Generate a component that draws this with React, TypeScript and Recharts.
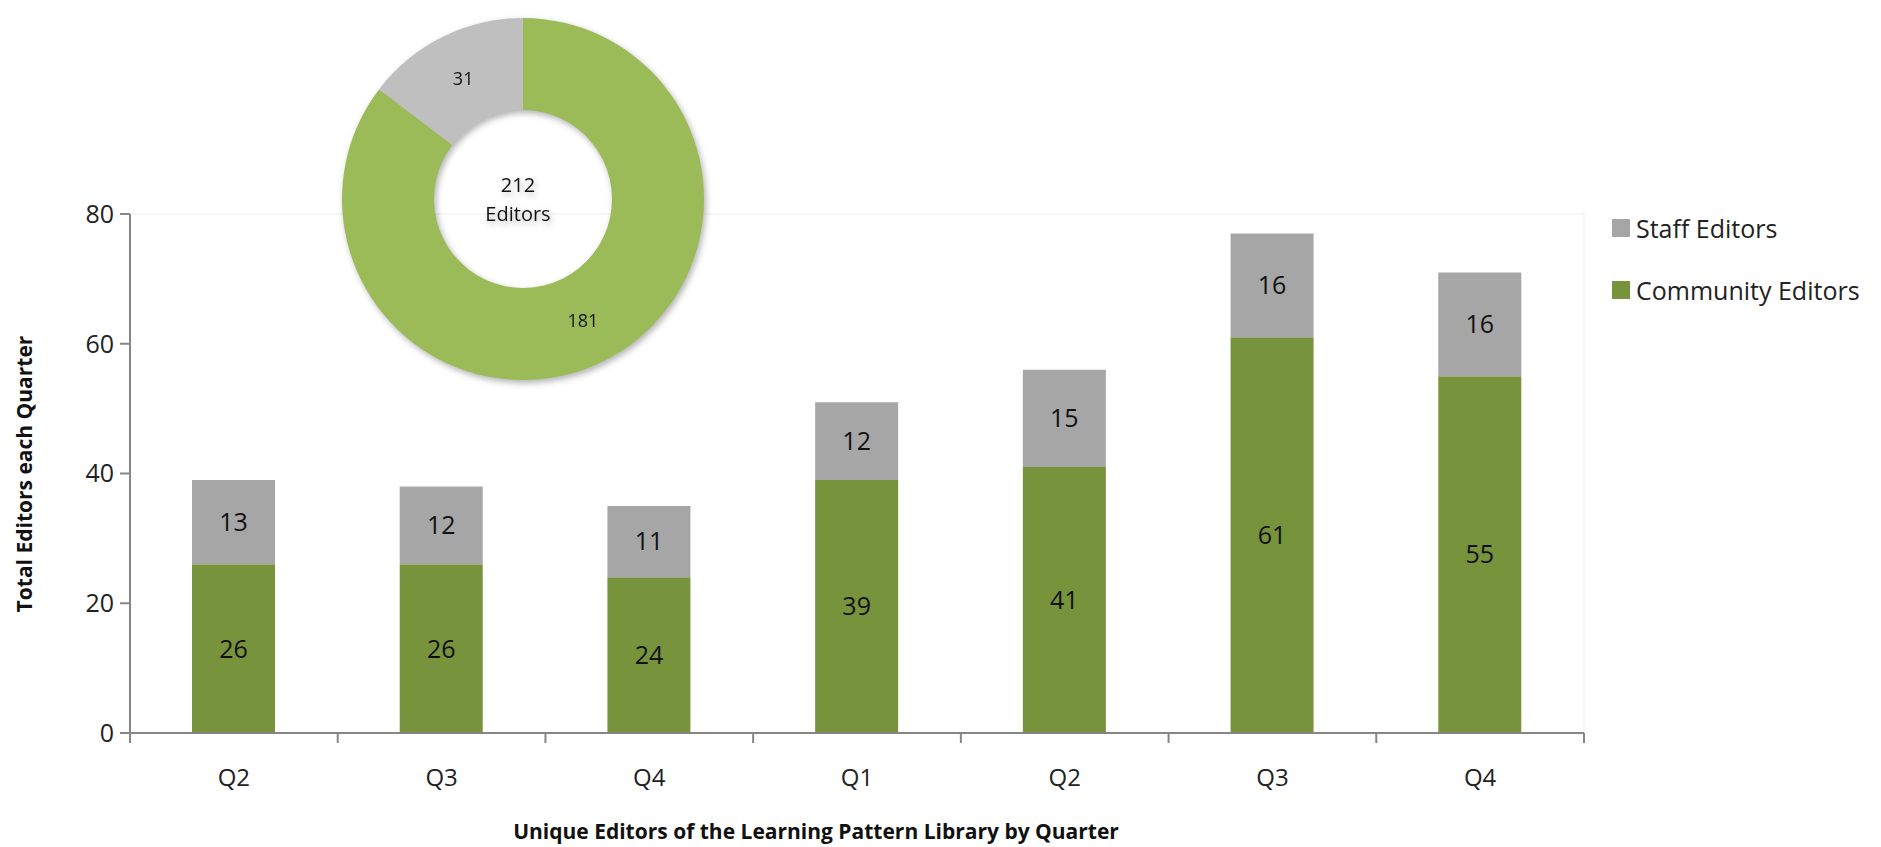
import React from 'react'
import {
  BarChart,
  Bar,
  XAxis,
  YAxis,
  LabelList,
  ReferenceLine,
  PieChart,
  Pie,
  Cell,
} from 'recharts'

const quarters = ['Q2', 'Q3', 'Q4', 'Q1', 'Q2', 'Q3', 'Q4']
const communityEditors = [26, 26, 24, 39, 41, 61, 55]
const staffEditors = [13, 12, 11, 12, 15, 16, 16]
const yTicks = [0, 20, 40, 60, 80]

const totalLabels = ['Community Editors', 'Staff Editors']
const totalValues = [181, 31]
const totalEditors = 212

const BAR_GREEN = '#77933C'
const BAR_GRAY = '#A6A6A6'
const PIE_GREEN = '#9BBB59'
const PIE_GRAY = '#BFBFBF'
const FONT = '"Open Sans", "Liberation Sans", sans-serif'

const chartData = quarters.map((q, i) => ({
  idx: i,
  quarter: q,
  community: communityEditors[i],
  staff: staffEditors[i],
}))

const pieData = totalLabels.map((name, i) => ({ name, value: totalValues[i] }))

const RADIAN = Math.PI / 180

const renderPieLabel = (props: any) => {
  const { cx, cy, midAngle, innerRadius, outerRadius, value } = props
  const r = (innerRadius + outerRadius) / 2
  const x = cx + r * Math.cos(-midAngle * RADIAN)
  const y = cy + r * Math.sin(-midAngle * RADIAN)
  return (
    <text x={x} y={y} textAnchor="middle" dominantBaseline="central" fontSize={18} fill="#111" fontFamily={FONT}>
      {value}
    </text>
  )
}

const legendItems = [
  { label: 'Staff Editors', color: BAR_GRAY, y: 228 },
  { label: 'Community Editors', color: BAR_GREEN, y: 290 },
]

export default function App() {
  return (
    <div style={{ position: 'absolute', left: 0, top: 0, width: 1881, height: 847, background: '#fff', fontFamily: FONT }}>
      <BarChart
        width={1881}
        height={847}
        data={chartData}
        margin={{ top: 214, right: 297, bottom: 50, left: 70 }}
      >
        <XAxis
          xAxisId="axisB"
          dataKey="quarter"
          axisLine={false}
          tickLine={false}
          height={50}
          tick={{ fontSize: 24, fill: '#222', fontFamily: FONT }}
          tickMargin={16}
          interval={0}
          allowDuplicatedCategory
        />
        <XAxis
          xAxisId="axisA"
          type="number"
          dataKey="idx"
          domain={[0, 7]}
          ticks={[0, 1, 2, 3, 4, 5, 6, 7]}
          tickFormatter={() => ''}
          stroke="#868686"
          strokeWidth={2}
          tickSize={10}
          height={14}
          allowDataOverflow
        />
        <YAxis
          domain={[0, 80]}
          ticks={yTicks}
          stroke="#868686"
          strokeWidth={2}
          tickSize={10}
          width={60}
          tick={{ fontSize: 25, fill: '#222', fontFamily: FONT }}
          tickMargin={6}
        />
        <ReferenceLine y={80} xAxisId="axisB" stroke="#EEEEEE" strokeWidth={1} />
        <ReferenceLine x={7} xAxisId="axisA" stroke="#EEEEEE" strokeWidth={1} />
        <Bar xAxisId="axisB" dataKey="community" name="Community Editors" stackId="a" fill={BAR_GREEN} barSize={83} isAnimationActive={false}>
          <LabelList dataKey="community" position="center" fill="#111" fontSize={25} fontFamily={FONT} />
        </Bar>
        <Bar xAxisId="axisB" dataKey="staff" name="Staff Editors" stackId="a" fill={BAR_GRAY} barSize={83} isAnimationActive={false}>
          <LabelList dataKey="staff" position="center" fill="#111" fontSize={25} fontFamily={FONT} />
        </Bar>
      </BarChart>

      {legendItems.map((item) => (
        <div
          key={item.label}
          style={{
            position: 'absolute',
            left: 1612,
            top: item.y - 18,
            height: 36,
            display: 'flex',
            alignItems: 'center',
            fontSize: 25,
            color: '#222',
            whiteSpace: 'nowrap',
          }}
        >
          <span style={{ width: 18, height: 18, background: item.color, display: 'inline-block', marginRight: 6 }} />
          {item.label}
        </div>
      ))}

      <div
        style={{
          position: 'absolute',
          left: 24,
          top: 474,
          transform: 'translate(-50%, -50%) rotate(-90deg)',
          whiteSpace: 'nowrap',
          fontWeight: 700,
          fontSize: 21,
          color: '#111',
        }}
      >
        Total Editors each Quarter
      </div>
      <div
        style={{
          position: 'absolute',
          left: 816,
          top: 817,
          transform: 'translateX(-50%)',
          whiteSpace: 'nowrap',
          fontWeight: 700,
          fontSize: 21,
          color: '#111',
        }}
      >
        Unique Editors of the Learning Pattern Library by Quarter
      </div>

      <div style={{ position: 'absolute', left: 318, top: -6, width: 400, height: 400, filter: 'drop-shadow(2px 3px 3px rgba(0,0,0,0.3))' }}>
        <PieChart width={400} height={400}>
          <Pie
            data={pieData}
            dataKey="value"
            cx={200}
            cy={200}
            innerRadius={89}
            outerRadius={181}
            startAngle={90}
            endAngle={-270}
            stroke="none"
            label={renderPieLabel}
            labelLine={false}
            isAnimationActive={false}
          >
            <Cell fill={PIE_GREEN} />
            <Cell fill={PIE_GRAY} />
          </Pie>
          <text x={200} y={190} textAnchor="middle" dominantBaseline="central" fontSize={20} fill="#111" fontFamily={FONT}>
            {totalEditors}
          </text>
          <text x={200} y={219} textAnchor="middle" dominantBaseline="central" fontSize={20} fill="#111" fontFamily={FONT}>
            Editors
          </text>
        </PieChart>
      </div>
    </div>
  )
}
